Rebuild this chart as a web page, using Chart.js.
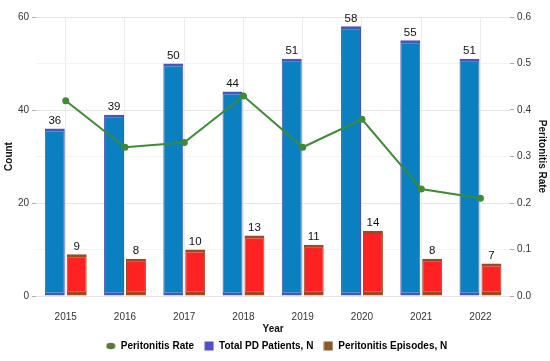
<!DOCTYPE html>
<html>
<head>
<meta charset="utf-8">
<script src="https://cdn.jsdelivr.net/npm/chart.js@4/dist/chart.umd.min.js"></script>
<style>
  html, body { margin: 0; padding: 0; background: #fff; }
  #wrap { width: 550px; height: 361px; }
</style>
</head>
<body>
<div id="wrap"><canvas id="peri"></canvas></div>
<script>
const years = ['2015', '2016', '2017', '2018', '2019', '2020', '2021', '2022'];
const totalPatients = [36, 39, 50, 44, 51, 58, 55, 51];
const episodes = [9, 8, 10, 13, 11, 14, 8, 7];
const rate = [0.42, 0.32, 0.33, 0.43, 0.32, 0.38, 0.23, 0.21];
const countTicks = [0, 10, 20, 30, 40, 50, 60];
const rateTicks = [0, 0.1, 0.2, 0.3, 0.4, 0.5, 0.6];

const font = '"Liberation Sans", Arial, sans-serif';

// little legend swatches
function swatch(color, round) {
  const c = document.createElement('canvas');
  c.width = 10; c.height = 10;
  const g = c.getContext('2d');
  g.fillStyle = color;
  if (round) {
    g.beginPath();
    g.ellipse(5, 5, 4.5, 3.2, 0, 0, Math.PI * 2);
    g.fill();
  } else {
    g.fillRect(0.5, 0.5, 9, 9);
  }
  return c;
}
const legendIcons = [swatch('#5a7a3a', true), swatch('#5050c8', false), swatch('#8b5a2b', false)];

// value labels over the bars
const barLabels = {
  id: 'barLabels',
  afterDatasetsDraw(chart) {
    const ctx = chart.ctx;
    ctx.save();
    ctx.font = '11.5px ' + font;
    ctx.textAlign = 'center';
    ctx.textBaseline = 'bottom';
    chart.data.datasets.forEach((ds, i) => {
      if (ds.type !== 'bar') return;
      chart.getDatasetMeta(i).data.forEach((bar, j) => {
        ctx.fillStyle = '#111';
        ctx.fillText(ds.data[j], bar.x, bar.y - 2);
      });
    });
    ctx.restore();
  }
};

let ctx = document.getElementById('peri').getContext('2d');

let chart = new Chart(ctx, {
  type: 'bar',
  data: {
    labels: years,
    datasets: [
      {
        type: 'line',
        label: 'Peritonitis Rate',
        data: rate,
        yAxisID: 'y1',
        borderColor: '#3d8b35',
        backgroundColor: '#3d8b35',
        borderWidth: 2,
        pointRadius: 3.5,
        pointBackgroundColor: '#3d8b35',
        pointBorderWidth: 0,
        order: 0
      },
      {
        type: 'bar',
        label: 'Total PD Patients, N',
        data: totalPatients,
        yAxisID: 'y',
        backgroundColor: '#0a80c0',
        borderColor: '#4a55b8',
        borderWidth: { top: 3, bottom: 3, left: 1, right: 1 },
        borderSkipped: false,
        barPercentage: 0.91,
        categoryPercentage: 0.74,
        order: 1
      },
      {
        type: 'bar',
        label: 'Peritonitis Episodes, N',
        data: episodes,
        yAxisID: 'y',
        backgroundColor: '#ff2222',
        borderColor: '#9c4a22',
        borderWidth: { top: 3, bottom: 4, left: 1, right: 1 },
        borderSkipped: false,
        barPercentage: 0.91,
        categoryPercentage: 0.74,
        order: 2
      }
    ]
  },
  options: {
    responsive: true,
    maintainAspectRatio: false,
    animation: false,
    layout: { padding: { top: 17, left: 3, right: 0, bottom: 0 } },
    plugins: {
      tooltip: { enabled: false },
      legend: {
        position: 'bottom',
        labels: {
          usePointStyle: true,
          boxWidth: 10,
          boxHeight: 10,
          padding: 10,
          color: '#111',
          font: { family: font, size: 10, weight: 'bold' },
          generateLabels(chart) {
            return chart.data.datasets.map((ds, i) => ({
              text: ds.label,
              fillStyle: '#000',
              strokeStyle: '#000',
              lineWidth: 0,
              pointStyle: legendIcons[i],
              datasetIndex: i
            }));
          }
        }
      }
    },
    scales: {
      x: {
        offset: true,
        grid: { offset: false, color: '#ececec', drawTicks: false },
        border: { display: false },
        ticks: { color: '#333', padding: 15, font: { family: font, size: 10 } },
        title: { display: true, text: 'Year', color: '#111', padding: { top: 0, bottom: -4 },
                 font: { family: font, size: 10, weight: 'bold' } },
        afterFit: axis => { axis.height = 35; }
      },
      y: {
        position: 'left',
        min: 0,
        max: 60,
        afterBuildTicks: axis => { axis.ticks = countTicks.map(v => ({ value: v })); },
        grid: {
          color: c => (c.tick && c.tick.value % 20 === 0) ? '#e6e6e6' : '#f3f3f3',
          tickColor: c => (c.tick && c.tick.value % 20 === 0) ? '#aaa' : 'rgba(0,0,0,0)',
          tickLength: 4
        },
        border: { display: false },
        ticks: {
          color: '#333',
          padding: 3,
          font: { family: font, size: 10 },
          callback: v => (v % 20 === 0 ? v : '')
        },
        title: { display: true, text: 'Count', color: '#111', padding: 0,
                 font: { family: font, size: 10, weight: 'bold' } }
      },
      y1: {
        position: 'right',
        min: 0,
        max: 0.6,
        afterBuildTicks: axis => { axis.ticks = rateTicks.map(v => ({ value: v })); },
        grid: { drawOnChartArea: false, tickColor: '#aaa', tickLength: 4 },
        border: { display: false },
        ticks: {
          color: '#333',
          padding: 3,
          font: { family: font, size: 10 },
          callback: v => v.toFixed(1)
        },
        title: { display: true, text: 'Peritonitis Rate', color: '#111', padding: 2,
                 font: { family: font, size: 10, weight: 'bold' } }
      }
    }
  },
  plugins: [barLabels]
});
</script>
</body>
</html>
